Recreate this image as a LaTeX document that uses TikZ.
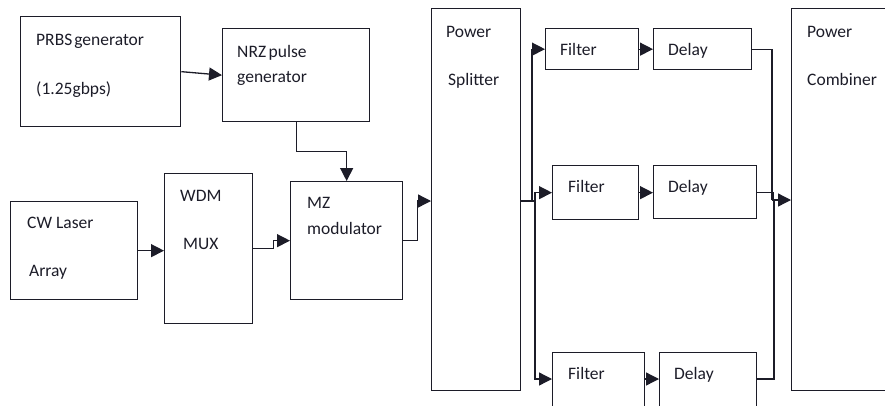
\documentclass[tikz,border=0pt]{standalone}
\usepackage{fontspec}
\setmainfont{Carlito}
\usetikzlibrary{arrows.meta}
\definecolor{ink}{RGB}{28,28,40}
\begin{document}
\begin{tikzpicture}[x=1pt,y=-1pt,
  box/.style={draw=ink,line width=1.3pt,anchor=north west,inner sep=0pt,fill=none},
  lbl/.style={anchor=base west,inner sep=0pt,text=ink,font=\fontsize{17.5}{21}\selectfont},
  conn/.style={draw=ink,line width=1.3pt},
  arr/.style={conn,-{Triangle[length=13pt,width=13pt]}}]
\useasboundingbox (0,0) rectangle (885,405);
\clip (0,0) rectangle (885,405);
% boxes
\node[box,minimum width=160pt,minimum height=110pt] (prbs) at (20,16) {};
\node[box,minimum width=147pt,minimum height=93pt] (nrz) at (222,28) {};
\node[box,minimum width=127pt,minimum height=98pt] (cw) at (10,201) {};
\node[box,minimum width=88pt,minimum height=150pt] (wdm) at (164,173) {};
\node[box,minimum width=112pt,minimum height=118pt] (mz) at (290,181) {};
\node[box,minimum width=89pt,minimum height=382pt] (split) at (431,8) {};
\node[box,minimum width=93pt,minimum height=41pt] (f1) at (545,28) {};
\node[box,minimum width=98pt,minimum height=41pt] (d1) at (653,28) {};
\node[box,minimum width=86pt,minimum height=54pt] (f2) at (552,165) {};
\node[box,minimum width=103pt,minimum height=53pt] (d2) at (653,165) {};
\node[box,minimum width=92pt,minimum height=70pt] (f3) at (552,352) {};
\node[box,minimum width=97pt,minimum height=70pt] (d3) at (659,352) {};
\node[box,minimum width=120pt,minimum height=382pt] (comb) at (791,8) {};
% labels
\node[lbl] (t1) at (36,45) {PRBS\hspace{2pt}generator};
\node[lbl] (t2) at (36,94) {(1.25gbps)};
\node[lbl] (t3) at (237,57) {NRZ\hspace{2.5pt}pulse};
\node[lbl] (t4) at (237,82) {generator};
\node[lbl] (t5) at (27,228) {CW Laser};
\node[lbl] (t6) at (29,276) {Array};
\node[lbl] (t7) at (180,201) {WDM};
\node[lbl] (t8) at (183,249) {MUX};
\node[lbl] (t9) at (307,208) {MZ};
\node[lbl] (t10) at (307,234) {modulator};
\node[lbl] (t11) at (446,37) {Power};
\node[lbl] (t12) at (448,85) {Splitter};
\node[lbl] (t13) at (560,55) {Filter};
\node[lbl] (t14) at (668,55) {Delay};
\node[lbl] (t15) at (568,192) {Filter};
\node[lbl] (t16) at (668,192) {Delay};
\node[lbl] (t17) at (568,379) {Filter};
\node[lbl] (t18) at (674,379) {Delay};
\node[lbl] (t19) at (807,37) {Power};
\node[lbl] (t20) at (807,85) {Combiner};
% helper coordinates
\coordinate (sin) at (431,201);
\coordinate (sout) at (520,201);
\coordinate (f3in) at (552,379);
\coordinate (f3out) at (644,379);
\coordinate (d3in) at (659,379);
\coordinate (d3out) at (756,379);
\coordinate (cin) at (791,200);
% connectors
\draw[arr] (prbs.east) -- (nrz.west);
\draw[arr] (nrz.south) -- ++(0,29) -| (mz.north);
\draw[arr] (cw.east) -- (cw.east -| wdm.west);
\draw[arr] (wdm.east) -- ++(20,0) |- (mz.west);
\draw[arr] (mz.east) -- ++(14,0) |- (sin);
\draw[arr] (sout) -- ++(15,0) |- (f2.west);
\draw[arr] (sout) ++(12,0) |- (f1.west);
\draw[arr] (535,192) |- (f3in);
\draw[arr] (f1.east) -- (f1.east -| d1.west);
\draw[arr] (f2.east) -- (f2.east -| d2.west);
\draw[arr] (f3out) -- (d3in);
\draw[conn] (d1.east) -| (772,200);
\draw[conn] (d2.east) -| (773,200);
\draw[conn] (d3out) -| (774,200);
\draw[arr] (772,200) -- (cin);
\end{tikzpicture}
\end{document}
